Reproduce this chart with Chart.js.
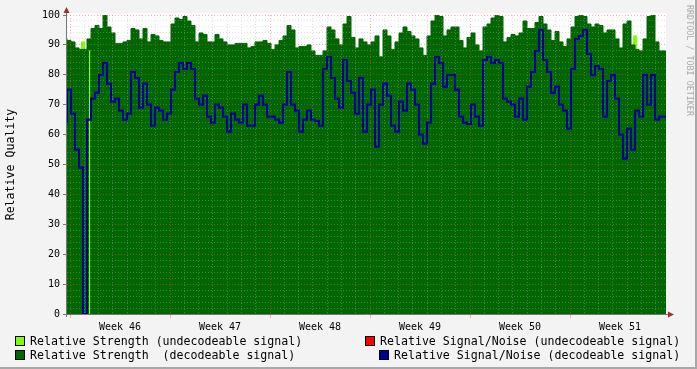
<!DOCTYPE html>
<html lang="en">
<head>
<meta charset="UTF-8">
<title>Relative Quality</title>
<script src="https://cdn.jsdelivr.net/npm/chart.js"></script>
<style>
  html, body { margin: 0; padding: 0; background: #F3F3F3; }
  #wrap { position: relative; width: 697px; height: 369px; overflow: hidden; }
  #wrap canvas { position: absolute; left: 0; top: 0; }
  .sq { position: absolute; width: 8px; height: 8px; border: 1px solid #000; }
  .lt { position: absolute; font-family: "DejaVu Sans Mono", monospace; font-size: 11.6px;
        line-height: 14px; white-space: pre; color: #000; }
</style>
</head>
<body>
<div id="wrap">
  <canvas id="chart" width="697" height="369"></canvas>
  <div class="sq" style="left:15px;top:336px;background:#7FFF00"></div>
  <div class="lt" style="left:30px;top:334px">Relative Strength (undecodeable signal)</div>
  <div class="sq" style="left:15px;top:350px;background:#006600"></div>
  <div class="lt" style="left:30px;top:348px">Relative Strength  (decodeable signal)</div>
  <div class="sq" style="left:365px;top:336px;background:#FF0000"></div>
  <div class="lt" style="left:380px;top:334px">Relative Signal/Noise (undecodeable signal)</div>
  <div class="sq" style="left:379px;top:350px;background:#000099"></div>
  <div class="lt" style="left:394px;top:348px">Relative Signal/Noise (decodeable signal)</div>
</div>

<script>
// time axis is in days from the start of week 46, one sample every STEP days
const T0 = -0.21;
const STEP = 0.28;
const X_MAX = 41.72;

const weekLabels = ['Week 46', 'Week 47', 'Week 48', 'Week 49', 'Week 50', 'Week 51'];

// relative strength, decodeable signal
const strength = [
  92, 91.5, 91, 89, 88.5, 88.5, 92, 95.5, 96.5, 95.5,
  100, 96, 94, 90.5, 90.5, 91, 91.5, 95.5, 95, 92,
  95.5, 91, 93.5, 93, 91.5, 91, 91, 97, 99, 98.5,
  99.5, 98, 96.5, 91, 94, 93.5, 91, 91, 93.5, 92,
  91, 90, 90, 90.5, 90.5, 90.5, 89, 89.5, 91, 91,
  91.5, 90.5, 88.5, 90, 91.5, 93, 96.5, 95, 89, 89.5,
  89.5, 90, 88, 86.5, 86.5, 88, 96, 95, 92, 90,
  97, 99.5, 92.5, 89, 92, 91, 90, 91, 93, 86,
  95, 93, 88.5, 91, 94, 96, 94.5, 93, 92, 89,
  86.5, 93, 98, 100, 99.5, 93, 95, 96, 96, 91.5,
  89, 92.5, 94, 90, 88, 96, 97, 99, 100, 99.5,
  91, 92.5, 93.5, 93, 94, 98, 95.5, 95.5, 97.5, 99.5,
  97, 95, 91.5, 94.5, 91, 89.5, 92, 96, 99.5, 100,
  99.5, 97, 96, 97, 96.5, 94, 95, 95, 92, 89,
  97, 98, 90, 88.5, 88, 92, 99.5, 100, 91, 88
];

// relative signal/noise, decodeable signal
const snr = [
  64, 75, 67, 55, 49, 0, 65, 72, 74, 80,
  84, 77, 71, 72, 68, 65, 67, 81, 79, 69,
  77, 70, 63, 69, 68, 65, 67, 75, 81, 84,
  82, 84, 82, 72, 70, 73, 66, 64, 70, 69,
  66, 61, 67, 65, 64, 70, 63, 63, 70, 73,
  70, 66, 66, 65, 64, 70, 81, 70, 68, 61,
  65, 68, 65, 64.5, 63, 82, 86, 79, 72, 69,
  85, 78, 74, 67, 79, 61, 70, 75, 56, 70,
  77, 73, 63, 61, 71, 68, 77, 75, 70, 60,
  57, 64, 77, 86, 84, 76, 80, 80, 75, 66,
  64, 63.5, 70, 66, 63, 85, 86, 84, 85, 84,
  72, 71, 70, 66, 72, 65, 76, 81, 88, 95,
  85, 81, 74, 76, 70, 68, 62, 82, 92, 93,
  95, 87, 80, 83, 82, 66, 78, 80, 72, 60,
  52, 62, 55, 68, 66, 80, 70, 80, 65, 66
];

// relative strength, undecodeable signal (short bursts)
const undecFrom  = [0.77, 1.33, 38.92, 39.41];
const undecTo    = [1.05, 1.43, 39.06, 39.69];
const undecValue = [91, 88, 89.5, 93];
const undecFront = [false, true, false, false];

const C_LIGHT = '#7FFF00';
const C_DARK = '#006600';
const C_BLUE = '#000099';
const MINOR = 'rgba(175,175,175,0.38)';
const MAJOR = 'rgba(255,80,80,0.45)';
const MONO = '"DejaVu Sans Mono", monospace';

function steps(values) {
  const pts = values.map((v, i) => ({ x: T0 + i * STEP, y: v }));
  pts.push({ x: T0 + values.length * STEP, y: values[values.length - 1] });
  return pts;
}

function bursts(front) {
  const pts = [];
  undecFrom.forEach((f, i) => {
    if (undecFront[i] !== front) return;
    pts.push({ x: f, y: undecValue[i] }, { x: undecTo[i], y: undecValue[i] }, { x: undecTo[i], y: null });
  });
  return pts;
}

const area = (data, color, order) => ({
  data, order, backgroundColor: color, borderColor: color, borderWidth: 1,
  fill: 'origin', stepped: 'after', pointRadius: 0, spanGaps: false
});

const rrdFrame = {
  id: 'rrdFrame',
  beforeDraw(chart) {
    const { ctx, chartArea: a } = chart;
    ctx.save();
    ctx.fillStyle = '#F3F3F3';
    ctx.fillRect(0, 0, chart.width, chart.height);
    ctx.fillStyle = '#FFFFFF';
    ctx.fillRect(a.left, a.top - 2, a.right - a.left, a.bottom - a.top + 2);
    ctx.restore();
  },
  afterDraw(chart) {
    const { ctx, chartArea: a } = chart;
    // the grid sits over the areas; draw the S/N line again above it
    ctx.save();
    ctx.beginPath();
    ctx.rect(a.left, a.top - 1, a.right - a.left, a.bottom - a.top + 2);
    ctx.clip();
    chart.getDatasetMeta(0).controller.draw();
    ctx.restore();

    ctx.save();
    // axes
    ctx.strokeStyle = '#777';
    ctx.lineWidth = 1;
    ctx.beginPath();
    ctx.moveTo(a.left - 0.5, a.top - 3);
    ctx.lineTo(a.left - 0.5, a.bottom + 3);
    ctx.moveTo(a.left - 3, a.bottom + 0.5);
    ctx.lineTo(a.right + 3, a.bottom + 0.5);
    ctx.stroke();
    // arrows
    ctx.fillStyle = '#A03030';
    ctx.beginPath();
    ctx.moveTo(a.left - 0.5, a.top - 8);
    ctx.lineTo(a.left - 3.5, a.top - 2);
    ctx.lineTo(a.left + 2.5, a.top - 2);
    ctx.fill();
    ctx.beginPath();
    ctx.moveTo(a.right + 8, a.bottom + 0.5);
    ctx.lineTo(a.right + 2, a.bottom - 2.5);
    ctx.lineTo(a.right + 2, a.bottom + 3.5);
    ctx.fill();
    // credit
    ctx.translate(689, 5);
    ctx.rotate(Math.PI / 2);
    ctx.fillStyle = '#AAAAAA';
    ctx.font = '8.4px ' + MONO;
    ctx.textBaseline = 'middle';
    ctx.fillText('RRDTOOL / TOBI OETIKER', 0, 0);
    ctx.restore();
    // frame
    ctx.save();
    ctx.fillStyle = '#A8A8A8';
    ctx.fillRect(chart.width - 2, 0, 2, chart.height);
    ctx.fillRect(0, chart.height - 2, chart.width, 2);
    ctx.restore();
  }
};

const ctx = document.getElementById('chart').getContext('2d');
new Chart(ctx, {
  type: 'line',
  data: {
    datasets: [
      { data: steps(snr), order: 0, borderColor: C_BLUE, borderWidth: 1.8, fill: false,
        stepped: 'after', pointRadius: 0 },
      area(bursts(true), C_LIGHT, 1),
      area(steps(strength), C_DARK, 2),
      area(bursts(false), C_LIGHT, 3)
    ]
  },
  plugins: [rrdFrame],
  options: {
    responsive: false,
    animation: false,
    devicePixelRatio: 1,
    layout: { padding: { top: 15, right: 31, left: 0, bottom: 0 } },
    plugins: { legend: { display: false }, tooltip: { enabled: false } },
    scales: {
      x: {
        type: 'linear', min: T0, max: X_MAX,
        afterBuildTicks(scale) {
          const t = [];
          for (let d = 0; d <= 41; d++) t.push({ value: d });
          weekLabels.forEach((_, k) => t.push({ value: k * 7 + 3.5 }));
          scale.ticks = t.sort((p, q) => p.value - q.value);
        },
        afterFit(scale) { scale.height = 55; },
        ticks: {
          autoSkip: false, maxRotation: 0, padding: 3, color: '#000',
          font: { family: MONO, size: 10 },
          callback: v => (v % 1 !== 0 ? weekLabels[Math.floor(v / 7)] : '')
        },
        grid: {
          z: 1,
          color: c => {
            const v = c.tick.value;
            if (v % 1 !== 0) return 'transparent';
            return v % 7 === 0 ? MAJOR : MINOR;
          },
          tickLength: 4,
          tickColor: c => (c.tick.value % 7 === 0 ? MAJOR : 'transparent')
        },
        border: { display: false, dash: [1, 2] }
      },
      y: {
        min: 0, max: 100,
        afterBuildTicks(scale) {
          const t = [];
          for (let v = 0; v <= 100; v += 2) t.push({ value: v });
          scale.ticks = t;
        },
        afterFit(scale) { scale.width = 67; },
        ticks: {
          autoSkip: false, padding: 3, color: '#000',
          font: { family: MONO, size: 10 },
          callback: v => (v % 10 === 0 ? v : '')
        },
        grid: {
          z: 1,
          color: c => (c.tick.value % 10 === 0 ? MAJOR : MINOR),
          tickLength: 4,
          tickColor: c => (c.tick.value % 10 === 0 ? '#777' : 'transparent')
        },
        border: { display: false, dash: [1, 2] },
        title: {
          display: true, text: 'Relative Quality', color: '#000',
          font: { family: MONO, size: 11.6 }, padding: { top: 4, bottom: 0 }
        }
      }
    }
  }
});
</script>
</body>
</html>
